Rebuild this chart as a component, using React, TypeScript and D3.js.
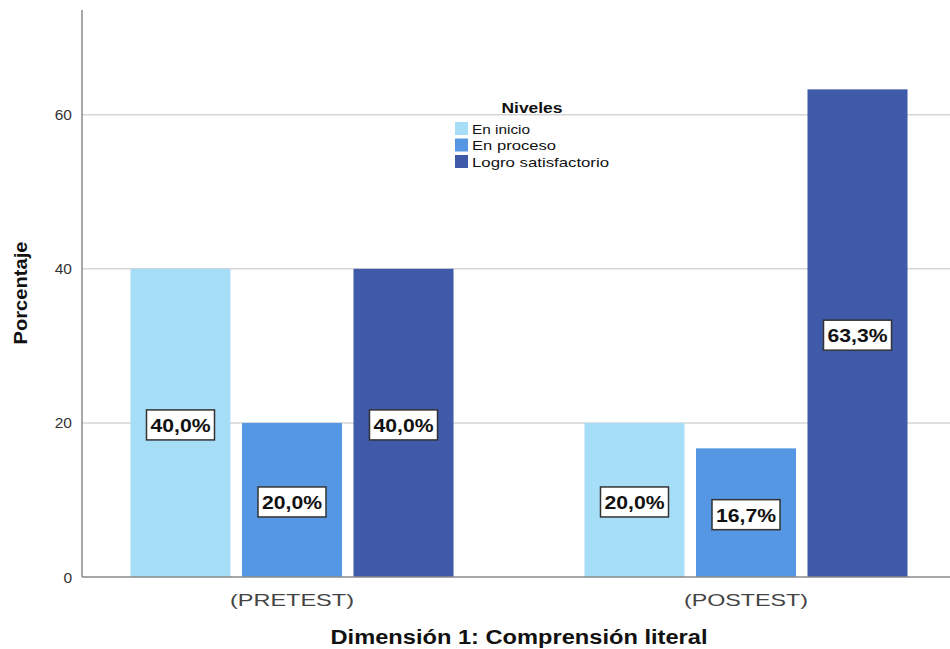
import React from "react";
import * as d3 from "d3";

const categories = ["(PRETEST)", "(POSTEST)"];
const seriesNames = ["En inicio", "En proceso", "Logro satisfactorio"];
const pretestValues = [40.0, 20.0, 40.0];
const posttestValues = [20.0, 16.7, 63.3];
const yTicks = [0, 20, 40, 60];
const colors = ["#a6ddf7", "#5597e2", "#3e5aa8"];
const legendTextWidths = [58, 84, 137];

const W = 950;
const H = 649;
const left = 82;
const right = 950;
const top = 10;
const bottom = 577;

export default function App() {
  const y = d3.scaleLinear().domain([0, 73.6]).range([bottom, top]);
  const x0 = d3
    .scaleBand<string>()
    .domain(categories)
    .range([left, 956])
    .paddingInner(0.2885)
    .paddingOuter(0.1068);
  const x1 = d3
    .scaleBand<string>()
    .domain(seriesNames)
    .range([0, x0.bandwidth()])
    .paddingInner(0.103)
    .paddingOuter(0);

  const data = [pretestValues, posttestValues];
  const fmt = (v: number) => v.toFixed(1).replace(".", ",") + "%";
  const font = "'Liberation Sans', Arial, sans-serif";

  return (
    <svg width={W} height={H} style={{ display: "block", position: "absolute", left: 0, top: 0 }} fontFamily={font}>
      <rect x={0} y={0} width={W} height={H} fill="#ffffff" />
      {/* gridlines */}
      {yTicks.filter((t) => t > 0).map((t) => (
        <line key={t} x1={left} x2={right} y1={y(t)} y2={y(t)} stroke="#d6d6d6" strokeWidth={1.5} />
      ))}
      {/* bars */}
      {categories.map((c, ci) =>
        seriesNames.map((s, si) => {
          const v = data[ci][si];
          const bx = (x0(c) as number) + (x1(s) as number);
          return (
            <rect key={c + s} x={bx} y={y(v)} width={x1.bandwidth()} height={y(0) - y(v)} fill={colors[si]} />
          );
        })
      )}
      {/* value labels */}
      {categories.map((c, ci) =>
        seriesNames.map((s, si) => {
          const v = data[ci][si];
          const cx = (x0(c) as number) + (x1(s) as number) + x1.bandwidth() / 2;
          const cy = y(v / 2) + 2;
          return (
            <g key={"l" + c + s}>
              <rect x={cx - 34} y={cy - 15} width={68} height={30} fill="#ffffff" stroke="#333333" strokeWidth={1.5} />
              <text
                x={cx}
                y={cy + 1}
                textAnchor="middle"
                dominantBaseline="central"
                fontSize={18}
                fontWeight="bold"
                fill="#111"
                textLength={60}
                lengthAdjust="spacingAndGlyphs"
              >
                {fmt(v)}
              </text>
            </g>
          );
        })
      )}
      {/* axes */}
      <line x1={left} x2={left} y1={top} y2={bottom} stroke="#8a8a8a" strokeWidth={1.5} />
      <line x1={left} x2={right} y1={bottom} y2={bottom} stroke="#8a8a8a" strokeWidth={1.5} />
      {yTicks.map((t) => (
        <text key={"t" + t} x={72} y={y(t)} textAnchor="end" dominantBaseline="central" fontSize={15.5} fill="#333">
          {t}
        </text>
      ))}
      {categories.map((c) => (
        <text
          key={"c" + c}
          x={(x0(c) as number) + x0.bandwidth() / 2}
          y={600}
          textAnchor="middle"
          dominantBaseline="central"
          fontSize={17}
          fill="#444"
          textLength={124}
          lengthAdjust="spacingAndGlyphs"
        >
          {c}
        </text>
      ))}
      <text
        x={519}
        y={637}
        textAnchor="middle"
        dominantBaseline="central"
        fontSize={20}
        fontWeight="bold"
        fill="#111"
        textLength={377}
        lengthAdjust="spacingAndGlyphs"
      >
        Dimensión 1: Comprensión literal
      </text>
      <text
        transform={`translate(21, 293) rotate(-90)`}
        textAnchor="middle"
        dominantBaseline="central"
        fontSize={18}
        fontWeight="bold"
        fill="#111"
        textLength={103}
        lengthAdjust="spacingAndGlyphs"
      >
        Porcentaje
      </text>
      {/* legend */}
      <text
        x={532}
        y={108}
        textAnchor="middle"
        dominantBaseline="central"
        fontSize={14}
        fontWeight="bold"
        fill="#111"
        textLength={61}
        lengthAdjust="spacingAndGlyphs"
      >
        Niveles
      </text>
      {seriesNames.map((s, i) => (
        <g key={"lg" + s} transform={`translate(455, ${122 + i * 16.5})`}>
          <rect x={0} y={0} width={13} height={13} fill={colors[i]} />
          <text
            x={17}
            y={7}
            dominantBaseline="central"
            fontSize={13.5}
            fill="#111"
            textLength={legendTextWidths[i]}
            lengthAdjust="spacingAndGlyphs"
          >
            {s}
          </text>
        </g>
      ))}
    </svg>
  );
}
